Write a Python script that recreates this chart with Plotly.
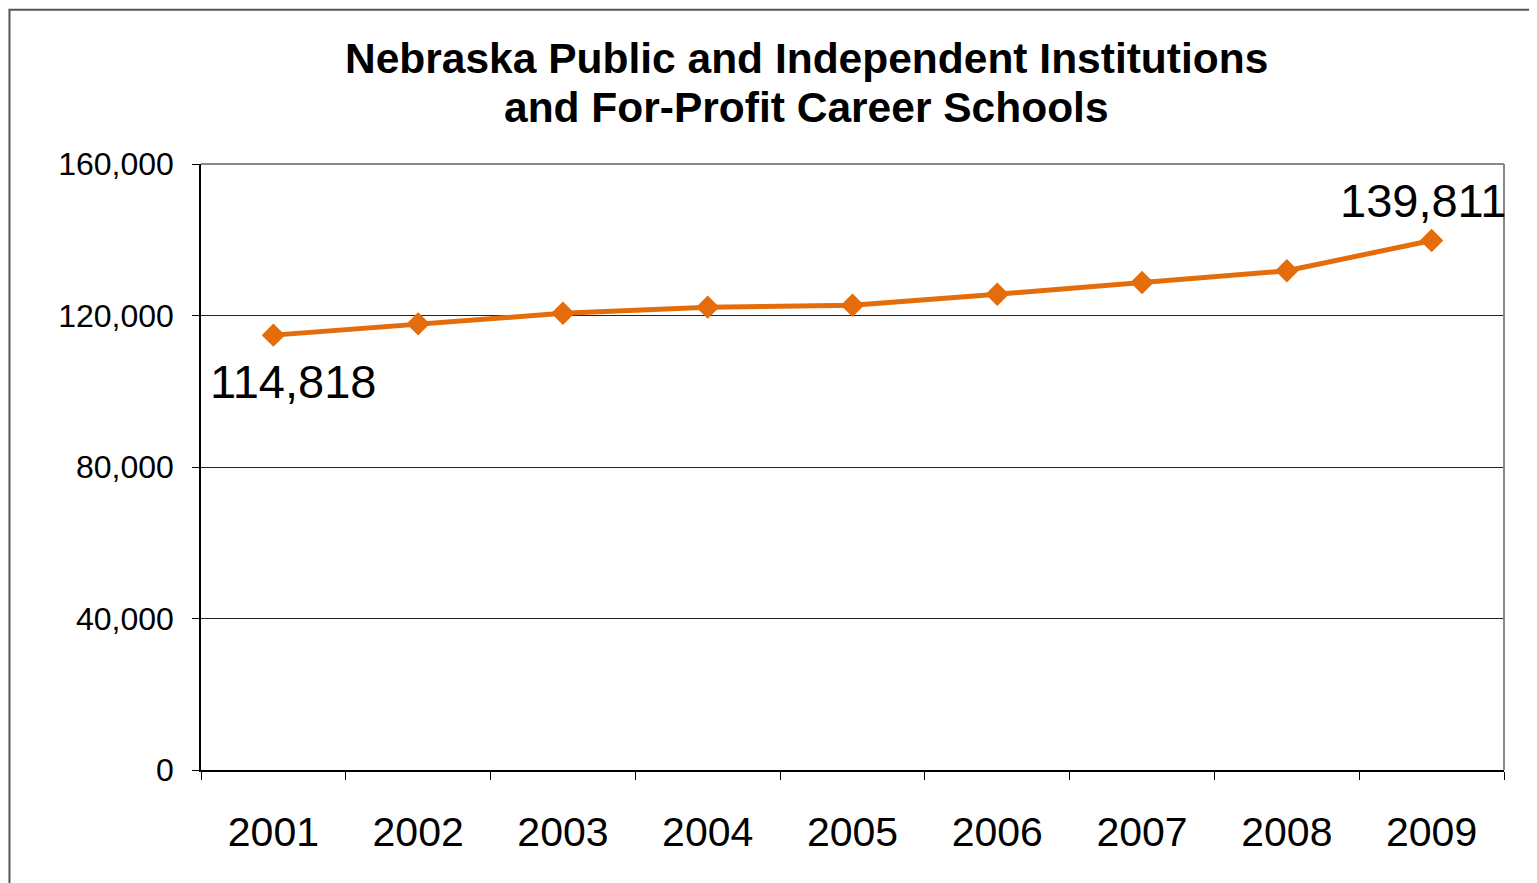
import plotly.graph_objects as go

# enrollment by year
years = ["2001", "2002", "2003", "2004", "2005", "2006", "2007", "2008", "2009"]
enrollment = [114818, 117800, 120600, 122200, 122700, 125600, 128700, 131800, 139811]
y_ticks = [0, 40000, 80000, 120000, 160000]
title_lines = ["Nebraska Public and Independent Institutions", "and For-Profit Career Schools"]

FONT = "Liberation Sans, Arial, sans-serif"
ORANGE = "#E46C0A"

fig = go.Figure()
fig.add_trace(go.Scatter(
    x=years, y=enrollment, mode="lines+markers",
    line=dict(color=ORANGE, width=5),
    marker=dict(symbol="diamond", size=18, color=ORANGE),
    hoverinfo="x+y", showlegend=False,
))

# labels for first and last point (category index, so "2001" isn't read as a position)
first, last = 0, len(years) - 1
fig.add_annotation(x=first, y=enrollment[first], text=f"{enrollment[first]:,}",
                   showarrow=False, xshift=20, yshift=-46,
                   font=dict(family=FONT, size=47, color="black"))
fig.add_annotation(x=last, y=enrollment[last], text=f"{enrollment[last]:,}",
                   showarrow=False, xshift=-9, yshift=40,
                   font=dict(family=FONT, size=47, color="black"))

# two-line title, tighter line spacing than plotly's title
for txt, ty in zip(title_lines, [1.1749, 1.094]):
    fig.add_annotation(xref="paper", yref="paper", x=0.465, y=ty, text=f"<b>{txt}</b>",
                       showarrow=False, xanchor="center", yanchor="middle",
                       font=dict(family=FONT, size=42.5, color="black"))

# gray top / right border of the plot area
fig.add_shape(type="line", xref="paper", yref="paper", x0=0, x1=1, y0=1, y1=1,
              line=dict(color="#888888", width=2), layer="above")
fig.add_shape(type="line", xref="paper", yref="paper", x0=1, x1=1, y0=0, y1=1,
              line=dict(color="#888888", width=2), layer="above")
# outer chart border (kept just inside the figure so it isn't clipped)
fig.add_shape(type="rect", xref="paper", yref="paper", x0=-0.147, x1=1.1, y0=-0.3, y1=1.2545,
              line=dict(color="#555555", width=2), layer="above")

# page body has an 8px margin, so margins are trimmed by that much
fig.update_layout(
    width=1537, height=883,
    margin=dict(l=193, r=41, t=156, b=121, autoexpand=False),
    plot_bgcolor="white", paper_bgcolor="white",
    font=dict(family=FONT, color="black"),
)
fig.update_xaxes(
    type="category", range=[-0.5, len(years) - 0.5], tickson="boundaries",
    ticks="outside", ticklen=8, tickcolor="black",
    showline=True, linecolor="black", linewidth=1.5,
    showgrid=False, tickfont=dict(size=41), ticklabelstandoff=25, tickangle=0,
)
fig.update_yaxes(
    range=[0, 160000], tickvals=y_ticks, tickformat=",", ticks="outside", ticklen=7,
    tickcolor="black", showline=True, linecolor="black", linewidth=1.5,
    showgrid=True, gridcolor="#222222", gridwidth=1, zeroline=False,
    tickfont=dict(size=32), ticklabelstandoff=12,
)

fig.write_html("out.html")
